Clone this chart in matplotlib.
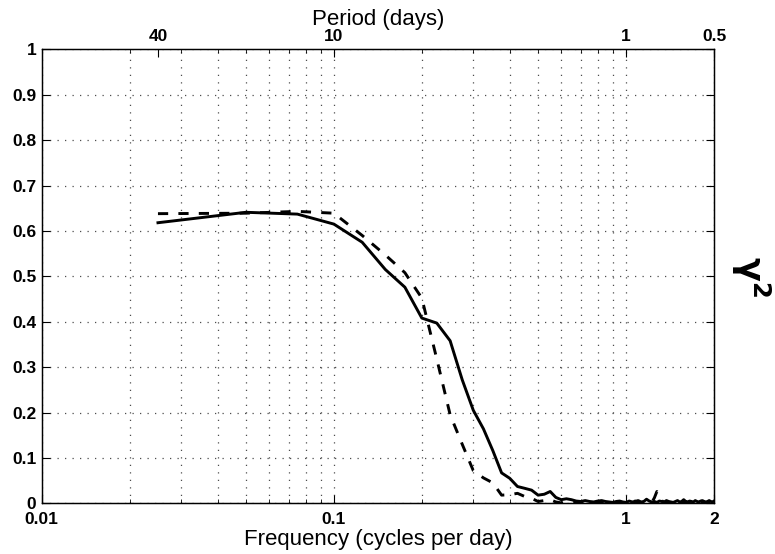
import numpy as np
import matplotlib
matplotlib.use('Agg')
import matplotlib.pyplot as plt
from matplotlib.ticker import NullFormatter, FixedLocator, LogLocator

plt.rcParams['font.family'] = ['Liberation Sans', 'DejaVu Sans']

# frequency grid of the spectral estimate (cycles per day), 0.025 to 2
freq = np.arange(1, 81) * 0.025

# coherence squared, solid curve
coh_solid = [0.618, 0.641, 0.637, 0.615, 0.575, 0.515, 0.476, 0.408, 0.397, 0.358,
             0.272, 0.205, 0.164, 0.116, 0.067, 0.055, 0.037, 0.033, 0.029, 0.018,
             0.020, 0.026, 0.013, 0.008, 0.010, 0.008, 0.005, 0.004, 0.006, 0.004,
             0.003, 0.005, 0.006, 0.004, 0.003, 0.002, 0.004, 0.005, 0.003, 0.002,
             0.005, 0.003, 0.004, 0.006, 0.003, 0.004, 0.009, 0.005, 0.003, 0.004,
             0.002, 0.005, 0.004, 0.003, 0.006, 0.004, 0.003, 0.002, 0.004, 0.006,
             0.003, 0.004, 0.008, 0.004, 0.003, 0.005, 0.004, 0.003, 0.006, 0.004,
             0.003, 0.005, 0.006, 0.004, 0.003, 0.004, 0.006, 0.004, 0.003, 0.005]

# coherence squared, dashed curve
coh_dashed = [0.638, 0.639, 0.643, 0.639, 0.590, 0.547, 0.508, 0.452, 0.318, 0.195,
              0.130, 0.072, 0.056, 0.045, 0.018, 0.019, 0.022, 0.015, 0.011, 0.004,
              0.006, 0.008, 0.003, 0.001, 0.002, 0.001, 0.002, 0.001, 0.002, 0.001,
              0.001, 0.002, 0.001, 0.001, 0.002, 0.001, 0.001, 0.002, 0.001, 0.002,
              0.001, 0.003, 0.005, 0.002, 0.001, 0.002, 0.001, 0.001, 0.002, 0.012,
              0.026, 0.018, 0.006, 0.002, 0.001, 0.002, 0.001, 0.003, 0.002, 0.001,
              0.002, 0.001, 0.002, 0.004, 0.002, 0.001, 0.002, 0.003, 0.001, 0.002,
              0.001, 0.002, 0.001, 0.003, 0.001, 0.002, 0.001, 0.002, 0.003, 0.002]

xticks = [0.01, 0.1, 1, 2]
xticklabels = ['0.01', '0.1', '1', '2']
period_ticks = [0.025, 0.1, 1, 2]
period_labels = ['40', '10', '1', '0.5']
yticks = np.round(np.arange(0, 11) * 0.1, 1)
yticklabels = ['0', '0.1', '0.2', '0.3', '0.4', '0.5', '0.6', '0.7', '0.8', '0.9', '1']

fig = plt.figure(figsize=(7.75, 5.54), dpi=100)
ax = fig.add_axes([0.0538, 0.0915, 0.8675, 0.8195])

grid_kw = dict(color='0.3', linewidth=0.9, linestyle=(0, (1, 5)))
ax.plot(freq, coh_solid, color='black', linewidth=2.1, zorder=3)
ax.plot(freq, coh_dashed, color='black', linewidth=2.1, dashes=(3.5, 3.5), zorder=3)

ax.set_xscale('log')
ax.set_xlim(0.01, 2)
ax.set_ylim(0, 1)
ax.set_xticks(xticks)
ax.set_xticklabels(xticklabels)
ax.xaxis.set_minor_locator(LogLocator(base=10, subs=np.arange(2, 10)))
ax.xaxis.set_minor_formatter(NullFormatter())
ax.set_yticks(yticks)
ax.set_yticklabels(yticklabels)
ax.grid(True, which='major', axis='both', **grid_kw)
ax.grid(True, which='minor', axis='x', **grid_kw)
ax.set_axisbelow(True)

ax.tick_params(which='both', direction='in', top=False, right=True, labelsize=12.5)
ax.tick_params(axis='x', pad=6)
ax.tick_params(axis='y', pad=4)
ax.tick_params(which='major', length=6, width=0.8)
ax.tick_params(which='minor', length=3, width=0.6)
for lab in ax.get_xticklabels() + ax.get_yticklabels():
    lab.set_fontweight('bold')

ax.set_xlabel('Frequency (cycles per day)', fontsize=16, labelpad=2)
ax.yaxis.set_label_position('right')
ylab = ax.set_ylabel(r'$\mathbf{\gamma^2}$', fontsize=25, rotation=-90,
                     ha='center', va='center')
ax.yaxis.set_label_coords(1.054, 0.5)

# period axis on top
ax2 = ax.twiny()
ax2.set_xscale('log')
ax2.set_xlim(ax.get_xlim())
ax2.xaxis.set_major_locator(FixedLocator(period_ticks))
ax2.set_xticklabels(period_labels)
ax2.xaxis.set_minor_locator(LogLocator(base=10, subs=np.arange(2, 10)))
ax2.xaxis.set_minor_formatter(NullFormatter())
ax2.tick_params(which='both', direction='in', labelsize=12.5, pad=4)
ax2.tick_params(which='major', length=6, width=0.8)
ax2.tick_params(which='minor', length=3, width=0.6)
for lab in ax2.get_xticklabels():
    lab.set_fontweight('bold')
ax2.set_xlabel('Period (days)', fontsize=16, labelpad=3)

for a in (ax, ax2):
    for sp in a.spines.values():
        sp.set_linewidth(0.9)

fig.savefig('out.png', dpi=100)
